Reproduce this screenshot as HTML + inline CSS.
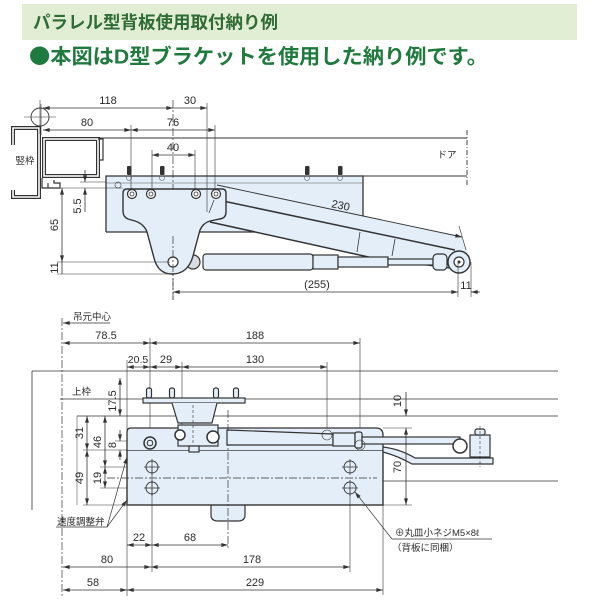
<!DOCTYPE html>
<html><head><meta charset="utf-8"><style>
html,body{margin:0;padding:0;background:#fff;}
svg{display:block}
text{font-family:"Liberation Sans","Noto Sans CJK JP",sans-serif;fill:#2a2a2a;}
.t{font-size:11px;}
.j{font-size:9.5px;}
</style></head><body>
<svg width="600" height="600" viewBox="0 0 600 600" xmlns="http://www.w3.org/2000/svg">
<defs>
<marker id="a" viewBox="0 0 10 6" refX="10" refY="3" markerWidth="7" markerHeight="4" orient="auto-start-reverse" markerUnits="userSpaceOnUse"><path d="M0,0 L10,3 L0,6 z" fill="#333"/></marker>
</defs>

<!-- header -->
<rect x="22" y="4" width="555" height="36" fill="#e1eed3"/>
<text x="33" y="28.5" font-size="17.5" font-weight="bold" style="fill:#2f6b35" textLength="245" lengthAdjust="spacingAndGlyphs">パラレル型背板使用取付納り例</text>
<text x="29" y="63.5" font-size="20.5" font-weight="bold" style="fill:#1f7a3d" textLength="459" lengthAdjust="spacingAndGlyphs"><tspan style="font-family:'Noto Sans CJK JP',sans-serif">●</tspan>本図はD型ブラケットを使用した納り例です。</text>

<!-- ================= TOP DRAWING ================= -->
<g stroke="#333" fill="none">
  <path d="M13 145 L13 128 L39 128 L39 197 L13 197 L13 190" stroke-width="4"/>
  <path d="M13 145 L13 128 L39 128 L39 197 L13 197 L13 190" stroke="#fff" stroke-width="1.6"/>
  <rect x="44" y="139" width="54" height="37" stroke-width="4"/>
  <rect x="44" y="139" width="54" height="37" stroke="#fff" stroke-width="1.6"/>
  <path d="M98 139 L103 139 L103 160 L100 160" stroke-width="1.2"/>
  <path d="M42 178 L42 188 L60 188 L60 183 L54 183 L54 180 M48 188 L48 183" stroke-width="1.2"/>
  <circle cx="40" cy="117" r="9" stroke-width="0.9"/>
  <line x1="24" y1="117" x2="56" y2="117" stroke-width="0.6"/>
  <line x1="40" y1="100" x2="40" y2="134" stroke-width="0.6"/>
  <line x1="100" y1="138" x2="467" y2="138" stroke-width="0.9"/>
  <line x1="363" y1="176" x2="467" y2="176" stroke-width="0.9"/>
  <line x1="467" y1="130" x2="467" y2="187" stroke-width="0.9" stroke-dasharray="5 2 1 2"/>
</g>
<text x="447" y="158" class="j" text-anchor="middle">ドア</text>
<text x="25" y="164" class="j" text-anchor="middle">竪枠</text>

<!-- body fill + arm wedge fill -->
<rect x="106" y="176" width="257" height="56" fill="#e3eef8"/>
<polygon points="210,222 217,185 462,237 470,256 455,270 373,258" fill="#e3eef8"/>
<path d="M106 232 L106 176 L363 176 L363 216" fill="none" stroke="#333" stroke-width="1.3"/>
<line x1="106" y1="232" x2="255" y2="232" stroke="#333" stroke-width="1.3"/>
<line x1="106" y1="183" x2="363" y2="183" stroke="#555" stroke-width="0.6"/>
<circle cx="118" cy="185" r="3" fill="none" stroke="#555" stroke-width="0.7"/>
<line x1="173" y1="100" x2="173" y2="300" stroke="#333" stroke-width="0.7" stroke-dasharray="8 2 2 2"/>

<!-- bolts top -->
<g fill="#333">
  <rect x="127" y="166" width="4.5" height="9" rx="1"/>
  <rect x="160" y="166" width="4.5" height="9" rx="1"/>
  <rect x="305" y="166" width="4.5" height="9" rx="1"/>
  <rect x="338" y="166" width="4.5" height="9" rx="1"/>
</g>
<g stroke="#666" stroke-width="0.6" fill="none">
  <circle cx="129" cy="178" r="2.5"/><circle cx="162" cy="178" r="2.5"/><circle cx="307" cy="178" r="2.5"/><circle cx="340" cy="178" r="2.5"/>
</g>

<!-- arm lines -->
<g stroke="#333" fill="none">
  <line x1="223" y1="201" x2="455" y2="250" stroke-width="1.5"/>
  <line x1="210" y1="222" x2="373" y2="258" stroke-width="1.5"/>
  <line x1="373" y1="258" x2="450" y2="268" stroke-width="1.2"/>
  <line x1="360" y1="232" x2="357" y2="252" stroke-width="0.8"/>
  <line x1="395" y1="239" x2="392" y2="256" stroke-width="0.8"/>
  <line x1="217" y1="185" x2="462" y2="237" stroke-width="0.9" marker-end="url(#a)"/>
  <line x1="459" y1="226" x2="466" y2="250" stroke-width="0.6"/>
</g>
<text x="340" y="209" class="t" text-anchor="middle" transform="rotate(12 340 209)">230</text>

<!-- cylinder -->
<g stroke="#333" stroke-width="1.2" fill="#e3eef8">
  <rect x="203" y="254" width="110" height="16" rx="3"/>
  <rect x="313" y="255" width="25" height="14"/>
  <rect x="338" y="257" width="50" height="10"/>
  <rect x="388" y="259" width="45" height="6"/>
  <rect x="433" y="254" width="14" height="16" rx="4"/>
  <circle cx="459" cy="262" r="11" stroke-width="1.4"/>
  <circle cx="459" cy="262" r="5" fill="#fff"/>
  <circle cx="193" cy="262" r="7" fill="#d8dde2"/>
</g>
<circle cx="459" cy="262" r="1.5" fill="#333"/>

<!-- bracket -->
<path d="M127 189 L222 189 Q226 189 226 193 L226 212 Q226 218 220 219 L210 221 Q203 223 200 230 L193 256 Q188 274 172 274 Q158 274 154 258 L147 232 Q144 224 135 221 L128 219 Q123 217 123 211 L123 193 Q123 189 127 189 Z" fill="#e3eef8" stroke="#333" stroke-width="1.4"/>
<g stroke="#333" fill="#fff">
  <circle cx="132" cy="194" r="4.5" stroke-width="1.2"/><circle cx="132" cy="194" r="2" stroke-width="0.8"/>
  <circle cx="151" cy="194" r="4.5" stroke-width="1.2"/><circle cx="151" cy="194" r="2" stroke-width="0.8"/>
  <circle cx="196" cy="194" r="4.5" stroke-width="1.2"/><circle cx="196" cy="194" r="2" stroke-width="0.8"/>
  <circle cx="216" cy="194" r="4.5" stroke-width="1.2"/><circle cx="216" cy="194" r="2" stroke-width="0.8"/>
  <circle cx="173" cy="262" r="5" stroke-width="1.2"/>
</g>
<line x1="214" y1="200" x2="209" y2="213" stroke="#333" stroke-width="0.7"/>
<line x1="173" y1="236" x2="173" y2="300" stroke="#333" stroke-width="0.7" stroke-dasharray="8 2 2 2"/>

<!-- top dims -->
<g stroke="#333" stroke-width="0.8" fill="none">
  <line x1="43" y1="108" x2="173" y2="108" marker-start="url(#a)" marker-end="url(#a)"/>
  <line x1="173" y1="108" x2="207" y2="108" marker-end="url(#a)"/>
  <line x1="207" y1="103" x2="207" y2="212" stroke-width="0.6"/>
  <line x1="41" y1="104" x2="41" y2="135" stroke-width="0.6"/>
  <line x1="43" y1="130" x2="131" y2="130" marker-start="url(#a)" marker-end="url(#a)"/>
  <line x1="131" y1="130" x2="215" y2="130" marker-start="url(#a)" marker-end="url(#a)"/>
  <line x1="131" y1="125" x2="131" y2="190" stroke-width="0.6"/>
  <line x1="215" y1="125" x2="215" y2="190" stroke-width="0.6"/>
  <line x1="152" y1="155" x2="195" y2="155" marker-start="url(#a)" marker-end="url(#a)"/>
  <line x1="152" y1="150" x2="152" y2="190" stroke-width="0.6"/>
  <line x1="195" y1="150" x2="195" y2="190" stroke-width="0.6"/>
  <line x1="80" y1="182" x2="106" y2="182" stroke-width="0.6"/>
  <line x1="58" y1="188" x2="123" y2="188" stroke-width="0.6"/>
  <line x1="85" y1="170" x2="85" y2="182" marker-end="url(#a)"/>
  <line x1="85" y1="212" x2="85" y2="188" marker-end="url(#a)"/>
  <line x1="62" y1="188" x2="62" y2="262" marker-start="url(#a)" marker-end="url(#a)"/>
  <line x1="62" y1="262" x2="62" y2="274"/>
  <line x1="57" y1="262" x2="170" y2="262" stroke-width="0.6"/>
  <line x1="57" y1="274" x2="172" y2="274" stroke-width="0.6"/>
  <line x1="173" y1="292" x2="458" y2="292" marker-start="url(#a)" marker-end="url(#a)"/>
  <line x1="480" y1="292" x2="471" y2="292" marker-end="url(#a)"/>
  <line x1="458" y1="262" x2="458" y2="297" stroke-width="0.6"/>
  <line x1="471" y1="262" x2="471" y2="297" stroke-width="0.6"/>
</g>
<text x="108" y="104" class="t" text-anchor="middle">118</text>
<text x="190" y="104" class="t" text-anchor="middle">30</text>
<text x="87" y="126" class="t" text-anchor="middle">80</text>
<text x="173" y="126" class="t" text-anchor="middle">76</text>
<text x="173" y="151" class="t" text-anchor="middle">40</text>
<text x="81" y="206" class="t" text-anchor="middle" transform="rotate(-90 81 206)">5.5</text>
<text x="58" y="225" class="t" text-anchor="middle" transform="rotate(-90 58 225)">65</text>
<text x="58" y="268" class="t" text-anchor="middle" transform="rotate(-90 58 268)">11</text>
<text x="317" y="288" class="t" text-anchor="middle">(255)</text>
<text x="466" y="289" class="t" text-anchor="middle">11</text>

<!-- ================= BOTTOM DRAWING ================= -->
<g stroke="#333" stroke-width="0.8" fill="none">
  <line x1="62" y1="318" x2="62" y2="596" stroke-dasharray="8 2 2 2" stroke-width="0.7"/>
  <line x1="110" y1="323" x2="63" y2="323" marker-end="url(#a)"/>
  <line x1="63" y1="343" x2="150" y2="343" marker-start="url(#a)" marker-end="url(#a)"/>
  <line x1="150" y1="343" x2="360" y2="343" marker-start="url(#a)" marker-end="url(#a)"/>
  <line x1="150" y1="338" x2="150" y2="437" stroke-width="0.6"/>
  <line x1="360" y1="338" x2="360" y2="440" stroke-width="0.6"/>
  <line x1="127" y1="367" x2="150" y2="367" marker-start="url(#a)" marker-end="url(#a)"/>
  <line x1="150" y1="367" x2="182" y2="367" marker-start="url(#a)" marker-end="url(#a)"/>
  <line x1="182" y1="367" x2="327" y2="367" marker-start="url(#a)" marker-end="url(#a)"/>
  <line x1="127" y1="360" x2="127" y2="596" stroke-width="0.6"/>
  <line x1="182" y1="362" x2="182" y2="425" stroke-width="0.6"/>
  <line x1="327" y1="362" x2="327" y2="430" stroke-width="0.6"/>
  <line x1="32" y1="371" x2="558" y2="371"/>
  <line x1="60" y1="399" x2="558" y2="399"/>
  <line x1="77" y1="416" x2="558" y2="416"/>
  <line x1="383" y1="481" x2="558" y2="481"/>
  <line x1="32" y1="371" x2="32" y2="510"/>
  <line x1="77" y1="416" x2="77" y2="505" stroke-width="0.5"/>
  <line x1="120" y1="378" x2="120" y2="416" marker-start="url(#a)" marker-end="url(#a)"/>
  <line x1="120" y1="430" x2="120" y2="441" marker-end="url(#a)"/>
  <line x1="120" y1="460" x2="120" y2="450" marker-end="url(#a)"/>
  <line x1="87" y1="416" x2="87" y2="450" marker-start="url(#a)" marker-end="url(#a)"/>
  <line x1="87" y1="450" x2="87" y2="505" marker-start="url(#a)" marker-end="url(#a)"/>
  <line x1="105" y1="416" x2="105" y2="467" marker-start="url(#a)" marker-end="url(#a)"/>
  <line x1="105" y1="467" x2="105" y2="488" marker-start="url(#a)" marker-end="url(#a)"/>
  <line x1="83" y1="450" x2="127" y2="450" stroke-width="0.6"/>
  <line x1="83" y1="505" x2="127" y2="505" stroke-width="0.6"/>
  <line x1="100" y1="467" x2="146" y2="467" stroke-width="0.6"/>
  <line x1="100" y1="488" x2="146" y2="488" stroke-width="0.6"/>
  <line x1="115" y1="441" x2="144" y2="441" stroke-width="0.6"/>
</g>
<text x="73" y="320" class="j">吊元中心</text>
<text x="106" y="339" class="t" text-anchor="middle">78.5</text>
<text x="255" y="339" class="t" text-anchor="middle">188</text>
<text x="138" y="363" font-size="10.5" text-anchor="middle">20.5</text>
<text x="166" y="363" class="t" text-anchor="middle">29</text>
<text x="255" y="363" class="t" text-anchor="middle">130</text>
<text x="72" y="395" class="j">上枠</text>
<text x="116" y="401" class="t" text-anchor="middle" transform="rotate(-90 116 401)">17.5</text>
<text x="116" y="445" class="t" text-anchor="middle" transform="rotate(-90 116 445)">8</text>
<text x="83" y="433" class="t" text-anchor="middle" transform="rotate(-90 83 433)">31</text>
<text x="101" y="442" class="t" text-anchor="middle" transform="rotate(-90 101 442)">46</text>
<text x="83" y="478" class="t" text-anchor="middle" transform="rotate(-90 83 478)">49</text>
<text x="101" y="478" class="t" text-anchor="middle" transform="rotate(-90 101 478)">19</text>

<!-- closer body -->
<path d="M211 505 L211 515 Q211 521 218 521 L238 521 Q245 521 245 515 L245 505" fill="#e3eef8" stroke="#333" stroke-width="1.2"/>
<rect x="127" y="450" width="256" height="55" fill="#e3eef8" stroke="#333" stroke-width="1.4"/>
<path d="M127 450 L127 432 Q127 428 131 428 L376 428 Q383 428 383 435 L383 450" fill="#e3eef8" stroke="#333" stroke-width="1.3"/>
<g stroke="#333" fill="none">
  <line x1="228" y1="410" x2="228" y2="548" stroke-width="0.7" stroke-dasharray="8 2 2 2"/>
  <line x1="107" y1="478" x2="377" y2="478" stroke-width="0.7" stroke-dasharray="8 2 2 2"/>
  <circle cx="152" cy="467" r="6" stroke-width="0.9"/>
  <circle cx="152" cy="488" r="6" stroke-width="0.9"/>
  <circle cx="350" cy="467" r="6" stroke-width="0.9"/>
  <circle cx="350" cy="488" r="6" stroke-width="0.9"/>
  <path d="M144 467 H160 M152 459 V475 M144 488 H160 M152 480 V496 M342 467 H358 M350 459 V475 M342 488 H358 M350 480 V496" stroke-width="0.7"/>
  <circle cx="150" cy="443" r="6" stroke-width="1.5"/>
  <circle cx="150" cy="443" r="2.8" stroke-width="1"/>
</g>

<!-- bracket bottom -->
<g stroke="#333" stroke-width="1.2" fill="#e3eef8">
  <rect x="146.5" y="388" width="5" height="10" rx="2"/>
  <rect x="169.5" y="388" width="5" height="10" rx="2"/>
  <rect x="213.5" y="388" width="5" height="10" rx="2"/>
  <rect x="233.5" y="388" width="5" height="10" rx="2"/>
  <rect x="143" y="398" width="102" height="5"/>
  <path d="M172 403 L178 423 L212 423 L217 403"/>
  <path d="M227 430 L333 434 L333 445 L227 445 Z"/>
  <rect x="333" y="433" width="22" height="13"/>
  <rect x="355" y="432" width="7" height="16" rx="2"/>
  <rect x="362" y="437" width="98" height="7"/>
  <path d="M383 447 Q400 449 415 458 L493 458 L493 464 L412 464 Q398 456 383 452 Z"/>
  <rect x="470" y="435" width="20" height="22"/>
  <rect x="475" y="429" width="10" height="6" rx="2"/>
  <rect x="178" y="425" width="40" height="21"/>
  <rect x="189" y="446" width="10" height="6"/>
</g>
<g stroke="#333" fill="#fff">
  <circle cx="180" cy="435" r="5" stroke-width="1.5"/>
  <circle cx="213" cy="437" r="6" stroke-width="1.5"/>
  <circle cx="460" cy="446" r="7" stroke-width="1.5"/>
</g>
<g stroke="#333" stroke-width="0.6" fill="none">
  <line x1="193" y1="405" x2="193" y2="445" stroke-dasharray="3 2"/>
  <circle cx="327" cy="435" r="5"/>
  <circle cx="360" cy="445" r="5"/>
  <line x1="480" y1="426" x2="480" y2="467" stroke-dasharray="3 2"/>
</g>

<!-- right dims -->
<g stroke="#333" stroke-width="0.8" fill="none">
  <line x1="406" y1="392" x2="406" y2="416" marker-end="url(#a)"/>
  <line x1="406" y1="428" x2="406" y2="505" marker-start="url(#a)" marker-end="url(#a)"/>
  <line x1="383" y1="428" x2="412" y2="428" stroke-width="0.6"/>
  <line x1="383" y1="505" x2="412" y2="505" stroke-width="0.6"/>
  <line x1="127" y1="545" x2="152" y2="545" marker-start="url(#a)" marker-end="url(#a)"/>
  <line x1="152" y1="545" x2="228" y2="545" marker-start="url(#a)" marker-end="url(#a)"/>
  <line x1="63" y1="567" x2="151" y2="567" marker-start="url(#a)" marker-end="url(#a)"/>
  <line x1="151" y1="567" x2="350" y2="567" marker-start="url(#a)" marker-end="url(#a)"/>
  <line x1="63" y1="590" x2="127" y2="590" marker-start="url(#a)" marker-end="url(#a)"/>
  <line x1="127" y1="590" x2="383" y2="590" marker-start="url(#a)" marker-end="url(#a)"/>
  <line x1="152" y1="467" x2="152" y2="572" stroke-width="0.6"/>
  <line x1="350" y1="488" x2="350" y2="572" stroke-width="0.6"/>
  <line x1="383" y1="505" x2="383" y2="595" stroke-width="0.6"/>
  <line x1="56" y1="527" x2="107" y2="527" stroke-width="0.7"/>
  <line x1="107" y1="527" x2="127" y2="457" stroke-width="0.7" marker-end="url(#a)"/>
  <line x1="107" y1="527" x2="127" y2="500" stroke-width="0.7" marker-end="url(#a)"/>
  <line x1="392" y1="539" x2="492" y2="539" stroke-width="0.7"/>
  <line x1="392" y1="539" x2="355" y2="492" stroke-width="0.7" marker-end="url(#a)"/>
</g>
<text x="401" y="401" class="t" text-anchor="middle" transform="rotate(-90 401 401)">10</text>
<text x="401" y="467" class="t" text-anchor="middle" transform="rotate(-90 401 467)">70</text>
<text x="139" y="541" class="t" text-anchor="middle">22</text>
<text x="190" y="541" class="t" text-anchor="middle">68</text>
<text x="107" y="563" class="t" text-anchor="middle">80</text>
<text x="252" y="563" class="t" text-anchor="middle">178</text>
<text x="93" y="586" class="t" text-anchor="middle">58</text>
<text x="255" y="586" class="t" text-anchor="middle">229</text>
<text x="57" y="525" class="j">速度調整弁</text>
<text x="395" y="536" font-size="9.5">⊕丸皿小ネジM5×8ℓ</text>
<text x="392" y="551" font-size="9.5">（背板に同梱）</text>
</svg>
</body></html>
